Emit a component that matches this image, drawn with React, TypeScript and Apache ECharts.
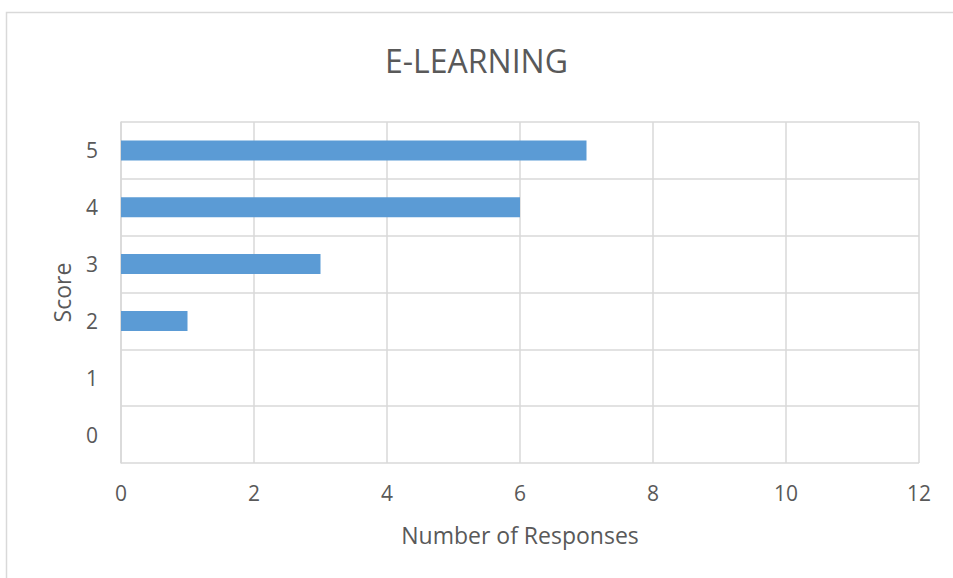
import React, { useEffect, useRef } from "react";
import * as echarts from "echarts";

const title = "E-LEARNING";
const categories = ["0", "1", "2", "3", "4", "5"];
const responses = [0, 0, 1, 3, 6, 7];
const xAxisName = "Number of Responses";
const yAxisName = "Score";

export default function App() {
  const ref = useRef<HTMLDivElement>(null);
  useEffect(() => {
    if (!ref.current) return;
    const chart = echarts.init(ref.current, null, { renderer: "svg" });
    const font = "'Open Sans', 'Noto Sans', sans-serif";
    chart.setOption({
      animation: false,
      backgroundColor: "#ffffff",
      title: {
        text: title,
        left: "center",
        top: 39,
        textStyle: { fontFamily: font, fontSize: 32, fontWeight: "normal", color: "#595959" },
      },
      graphic: [
        {
          type: "rect",
          shape: { x: 6.5, y: 12.5, width: 1000, height: 700 },
          style: { fill: "none", stroke: "#d9d9d9", lineWidth: 1.5 },
          silent: true,
          z: -1,
        },
      ],
      grid: { left: 121, right: 34, top: 122, bottom: 115, containLabel: false },
      xAxis: {
        type: "value",
        min: 0,
        max: 12,
        interval: 2,
        name: xAxisName,
        nameLocation: "middle",
        nameGap: 60,
        nameTextStyle: { fontFamily: font, fontSize: 23, color: "#595959" },
        axisLine: { show: false },
        axisTick: { show: false },
        axisLabel: { fontFamily: font, fontSize: 21, color: "#595959", margin: 19 },
        splitLine: { show: true, lineStyle: { color: "#d9d9d9", width: 1.5 } },
      },
      yAxis: {
        type: "category",
        data: categories,
        name: yAxisName,
        nameLocation: "middle",
        nameGap: 48,
        nameRotate: 90,
        nameTextStyle: { fontFamily: font, fontSize: 23, color: "#595959" },
        axisLine: { show: true, lineStyle: { color: "#d9d9d9", width: 1.5 } },
        axisTick: { show: false },
        axisLabel: { fontFamily: font, fontSize: 21, color: "#595959", margin: 23 },
        splitLine: { show: true, lineStyle: { color: "#d9d9d9", width: 1.5 } },
      },
      series: [
        {
          type: "bar",
          data: responses,
          barWidth: 20,
          itemStyle: { color: "#5b9bd5" },
        },
      ],
    });
    return () => chart.dispose();
  }, []);
  return (
    <div
      ref={ref}
      style={{ position: "fixed", left: 0, top: 0, width: 953, height: 578 }}
    />
  );
}
